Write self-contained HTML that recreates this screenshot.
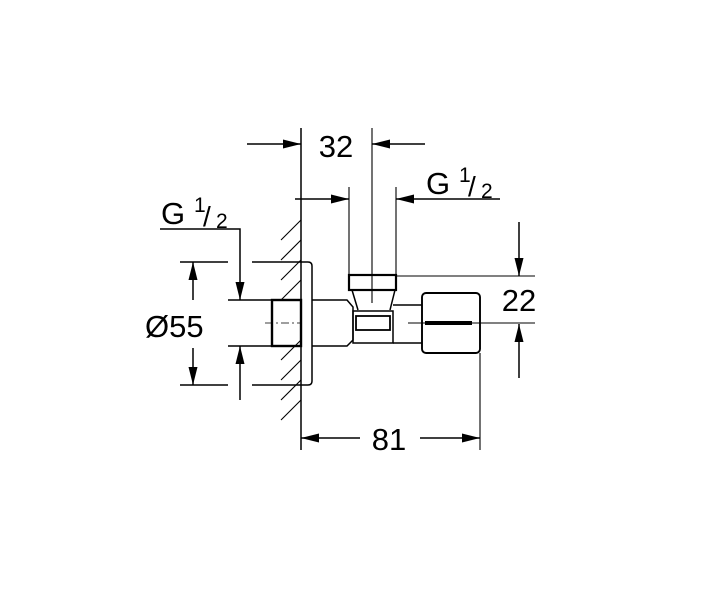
<!DOCTYPE html>
<html><head><meta charset="utf-8"><style>
html,body{margin:0;padding:0;background:#fff;}
svg{display:block;}
text{font-family:"Liberation Sans",sans-serif;fill:#000;}
</style></head><body>
<svg width="705" height="600" viewBox="0 0 705 600" xmlns="http://www.w3.org/2000/svg">
<defs>
<marker id="a" viewBox="0 0 18 9" refX="18" refY="4.5" markerWidth="18" markerHeight="9" markerUnits="userSpaceOnUse" orient="auto"><path d="M0,0 L18,4.5 L0,9 Z" fill="#000"/></marker>
</defs>
<g stroke="#000" stroke-width="1.5" fill="none">
<line x1="301" y1="128" x2="301" y2="450"/>
<g stroke-width="1.1">
<line x1="281" y1="240" x2="301" y2="220"/>
<line x1="281" y1="260" x2="301" y2="240"/>
<line x1="281" y1="280" x2="301" y2="260"/>
<line x1="281" y1="300" x2="301" y2="280"/>
<line x1="281" y1="360" x2="301" y2="340"/>
<line x1="281" y1="380" x2="301" y2="360"/>
<line x1="281" y1="400" x2="301" y2="380"/>
<line x1="281" y1="420" x2="301" y2="400"/>
</g>
<path d="M301,262 H308 Q312,262 312,266 V381 Q312,385 308,385 H301"/>
<rect x="272" y="300" width="29" height="46" stroke-width="2.4"/>
<line x1="265" y1="323" x2="301" y2="323" stroke-width="0.8" stroke-dasharray="8,3,2,3"/>
<path d="M312,300 H347 L353,307 V340 L347,346 H312"/>
<rect x="349" y="275" width="47" height="15" stroke-width="2.2"/>
<path d="M352,290 L358,310 M395,290 L390,310"/>
<rect x="353" y="311" width="40" height="32"/>
<rect x="356" y="316" width="34" height="14" stroke-width="1.8"/>
<path d="M393,305 H422 M393,343 H422"/>
<rect x="422" y="293" width="58" height="60" rx="4" stroke-width="1.9"/>
<line x1="425" y1="323" x2="472" y2="323" stroke-width="4"/>
<line x1="408" y1="323" x2="535" y2="323" stroke-width="1.1"/>
<line x1="372" y1="128" x2="372" y2="303" stroke-width="1.1"/>
<line x1="247" y1="144" x2="301" y2="144" marker-end="url(#a)"/>
<line x1="425" y1="144" x2="372" y2="144" marker-end="url(#a)"/>
<line x1="349" y1="187" x2="349" y2="275" stroke-width="1.1"/>
<line x1="396" y1="187" x2="396" y2="275" stroke-width="1.1"/>
<line x1="295" y1="199" x2="349" y2="199" marker-end="url(#a)"/>
<line x1="500" y1="199" x2="396" y2="199" marker-end="url(#a)"/>
<line x1="396" y1="276" x2="535" y2="276" stroke-width="1.1"/>
<line x1="519" y1="222" x2="519" y2="276" marker-end="url(#a)"/>
<line x1="519" y1="378" x2="519" y2="324" marker-end="url(#a)"/>
<line x1="180" y1="262" x2="228" y2="262"/><line x1="252" y1="262" x2="301" y2="262"/>
<line x1="180" y1="385" x2="228" y2="385"/><line x1="252" y1="385" x2="301" y2="385"/>
<line x1="228" y1="300" x2="272" y2="300"/>
<line x1="228" y1="346" x2="272" y2="346"/>
<line x1="193" y1="300" x2="193" y2="262" marker-end="url(#a)"/>
<line x1="193" y1="348" x2="193" y2="385" marker-end="url(#a)"/>
<polyline points="160,229 240,229 240,300" marker-end="url(#a)"/>
<line x1="240" y1="400" x2="240" y2="346" marker-end="url(#a)"/>
<line x1="480" y1="353" x2="480" y2="450" stroke-width="1.1"/>
<line x1="360" y1="438" x2="301" y2="438" marker-end="url(#a)"/>
<line x1="420" y1="438" x2="480" y2="438" marker-end="url(#a)"/>
</g>
<text x="336" y="157" font-size="31" text-anchor="middle">32</text>
<text x="426" y="194" font-size="31">G</text>
<text x="459" y="182" font-size="21">1</text>
<text x="468" y="196" font-size="28">/</text>
<text x="481" y="198" font-size="21">2</text>
<text x="161" y="224" font-size="31">G</text>
<text x="194" y="212" font-size="21">1</text>
<text x="203" y="226" font-size="28">/</text>
<text x="216" y="228" font-size="21">2</text>
<text x="145" y="337" font-size="31">Ø55</text>
<text x="519" y="311" font-size="31" text-anchor="middle">22</text>
<text x="389" y="450" font-size="31" text-anchor="middle">81</text>
</svg>
</body></html>
